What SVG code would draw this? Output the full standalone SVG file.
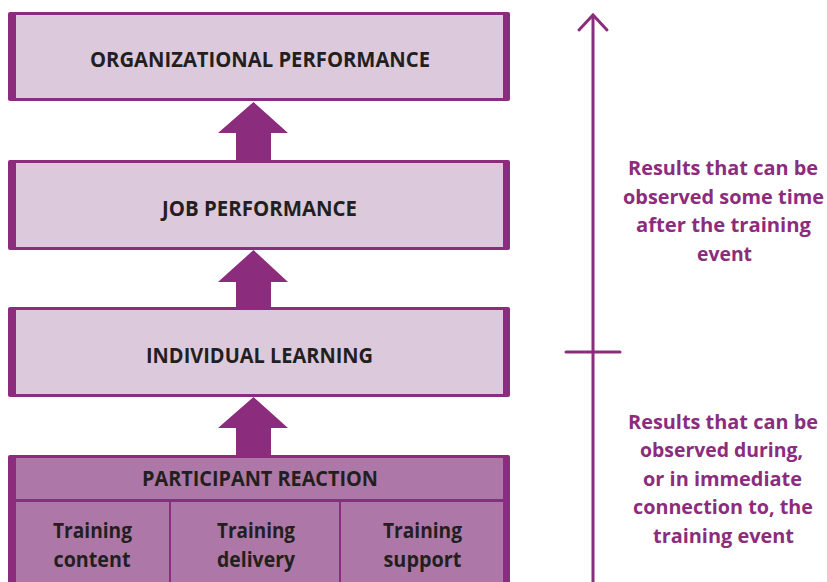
<svg xmlns="http://www.w3.org/2000/svg" width="827" height="582" viewBox="0 0 827 582">
<style>
.frame{fill:#8B2C7D}
.light{fill:#DCCADC}
.mid{fill:#AD78A7}
.lbl{font-family:"Open Sans","Liberation Sans",sans-serif;font-weight:700;fill:#231F20;text-anchor:middle}
.box{font-size:21px}
.cell{font-size:22px}
.note{font-family:"Open Sans","Liberation Sans",sans-serif;font-weight:700;fill:#8B2C7D;text-anchor:middle;font-size:19px}
.arr{fill:#8B2C7D}
.ln{stroke:#8B2C7D;stroke-width:3;fill:none;stroke-linecap:round;stroke-linejoin:miter}
</style>
<rect width="827" height="582" fill="#ffffff"/>
<g id="org-performance">
<rect class="frame" x="8" y="12" width="502" height="89" rx="2"/>
<rect class="light" x="16" y="15" width="487" height="83"/>
<text class="lbl box" x="260" y="67" textLength="340" lengthAdjust="spacingAndGlyphs">ORGANIZATIONAL PERFORMANCE</text>
</g>
<g id="job-performance">
<rect class="frame" x="8" y="160" width="502" height="90" rx="2"/>
<rect class="light" x="16" y="163" width="487" height="84"/>
<text class="lbl box" x="259.5" y="216" textLength="195" lengthAdjust="spacingAndGlyphs">JOB PERFORMANCE</text>
</g>
<g id="individual-learning">
<rect class="frame" x="8" y="307" width="502" height="90" rx="2"/>
<rect class="light" x="16" y="310" width="487" height="84"/>
<text class="lbl box" x="259.5" y="363" textLength="227" lengthAdjust="spacingAndGlyphs">INDIVIDUAL LEARNING</text>
</g>
<g id="participant-reaction">
<rect class="frame" x="8" y="455" width="502" height="130" rx="2"/>
<rect class="mid" x="16" y="458" width="487" height="41"/>
<rect class="mid" x="16" y="502" width="153" height="85"/>
<rect class="mid" x="171" y="502" width="168" height="85"/>
<rect class="mid" x="341" y="502" width="162" height="85"/>
<text class="lbl box" x="260" y="486" textLength="236" lengthAdjust="spacingAndGlyphs">PARTICIPANT REACTION</text>
<g id="training-content">
<text class="lbl cell" x="92.5" y="538" textLength="79" lengthAdjust="spacingAndGlyphs">Training</text>
<text class="lbl cell" x="92" y="567" textLength="77" lengthAdjust="spacingAndGlyphs">content</text>
</g>
<g id="training-delivery">
<text class="lbl cell" x="256" y="538" textLength="78" lengthAdjust="spacingAndGlyphs">Training</text>
<text class="lbl cell" x="256" y="567" textLength="78" lengthAdjust="spacingAndGlyphs">delivery</text>
</g>
<g id="training-support">
<text class="lbl cell" x="422.5" y="538" textLength="79" lengthAdjust="spacingAndGlyphs">Training</text>
<text class="lbl cell" x="422.5" y="567" textLength="78" lengthAdjust="spacingAndGlyphs">support</text>
</g>
</g>
<g id="connectors">
<polygon class="arr" points="253.5,102 288,133 271,133 271,160 236,160 236,133 218,133"/>
<polygon class="arr" points="253.5,250 288,282 271,282 271,307 236,307 236,282 218,282"/>
<polygon class="arr" points="253.5,397 288,428 271,428 271,455 236,455 236,428 218,428"/>
<line class="ln" x1="593" y1="16" x2="593" y2="582"/>
<polyline class="ln" points="579,30 593,15 607,30"/>
<line class="ln" x1="566" y1="352" x2="620" y2="352"/>
</g>
<g id="note-later">
<text class="note" x="723" y="175" textLength="190" lengthAdjust="spacingAndGlyphs">Results that can be</text>
<text class="note" x="723.5" y="204" textLength="201" lengthAdjust="spacingAndGlyphs">observed some time</text>
<text class="note" x="723.5" y="232" textLength="175" lengthAdjust="spacingAndGlyphs">after the training</text>
<text class="note" x="724.5" y="261" textLength="55" lengthAdjust="spacingAndGlyphs">event</text>
</g>
<g id="note-during">
<text class="note" x="723" y="429" textLength="190" lengthAdjust="spacingAndGlyphs">Results that can be</text>
<text class="note" x="721.5" y="457" textLength="163" lengthAdjust="spacingAndGlyphs">observed during,</text>
<text class="note" x="722.5" y="486" textLength="159" lengthAdjust="spacingAndGlyphs">or in immediate</text>
<text class="note" x="723" y="514" textLength="180" lengthAdjust="spacingAndGlyphs">connection to, the</text>
<text class="note" x="723.5" y="543" textLength="141" lengthAdjust="spacingAndGlyphs">training event</text>
</g>
</svg>
